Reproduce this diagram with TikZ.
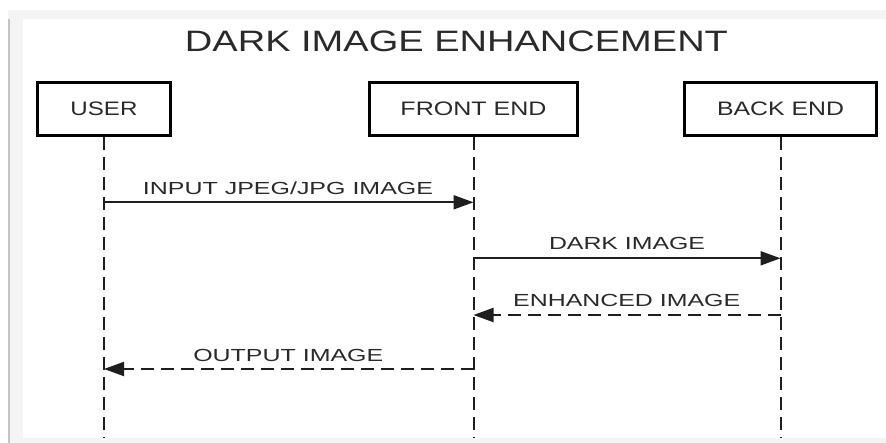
\documentclass[tikz,border=0pt]{standalone}
\usepackage{fontspec}
\setmainfont{Liberation Sans}
\usepackage{graphicx}
\usetikzlibrary{arrows.meta}
\definecolor{txt}{HTML}{2A2A2A}
\definecolor{ln}{HTML}{1E1E1E}
\definecolor{framebg}{HTML}{F4F4F4}
\definecolor{frameline}{HTML}{C4C4C4}
\newcommand{\fitw}[2]{\resizebox{#1}{\height}{#2}}
\begin{document}
\begin{tikzpicture}[x=1pt,y=-1pt,
  actor/.style={draw=black, line width=3pt, fill=white, minimum width=#1, minimum height=53pt,
    inner sep=0pt, text=txt, font=\fontsize{19.5}{21}\selectfont},
  life/.style={draw=ln, line width=2pt, dash pattern=on 13pt off 7pt},
  msg/.style={draw=ln, line width=2pt, -{Triangle[length=20pt,width=14pt]}},
  reply/.style={msg, dash pattern=on 13pt off 7pt},
  lbl/.style={anchor=base, inner sep=0pt, text=txt, font=\fontsize{17.5}{19}\selectfont}]
\useasboundingbox (0,0) rectangle (886,443);
% frame
\fill[white] (0,0) rectangle (886,443);
\fill[framebg] (8,10) rectangle (886,443);
\fill[white] (23,19) rectangle (886,438);
\fill[frameline] (8,19) rectangle (10,443);
% title
\node[anchor=base, inner sep=0pt, text=txt, font=\fontsize{29.5}{32}\selectfont] (title) at (456.5,51.7)
  {\fitw{543pt}{DARK IMAGE ENHANCEMENT}};
% actors
\node[actor=133pt] (user) at (104,109) {\fitw{67pt}{USER}};
\node[actor=208pt] (front) at (473.5,109) {\fitw{146pt}{FRONT END}};
\node[actor=192pt] (back) at (780.5,109) {\fitw{127pt}{BACK END}};
% lifeline ends
\coordinate (uend) at (104,438);
\coordinate (fend) at (473.5,438);
\coordinate (bend) at (780.5,438);
\draw[life] (user.south) -- (uend);
\draw[life] (front.south) -- (fend);
\draw[life] (back.south) -- (bend);
% message points
\coordinate (u1) at (104,202.3);
\coordinate (f1) at (473.5,202.3);
\coordinate (f2) at (473.5,258.3);
\coordinate (b2) at (780.5,258.3);
\coordinate (b3) at (780.5,315);
\coordinate (f3) at (473.5,315);
\coordinate (f4) at (473.5,369);
\coordinate (u4) at (104,369);
\draw[msg] (u1) -- (f1);
\draw[msg] (f2) -- (b2);
\draw[reply] (b3) -- (f3);
\draw[reply] (f4) -- (u4);
% labels
\node[lbl] (l1) at (288,195) {\fitw{290pt}{INPUT JPEG/JPG IMAGE}};
\node[lbl] (l2) at (627,250) {\fitw{156pt}{DARK IMAGE}};
\node[lbl] (l3) at (626.7,306.7) {\fitw{227pt}{ENHANCED IMAGE}};
\node[lbl] (l4) at (288.3,361.7) {\fitw{190pt}{OUTPUT IMAGE}};
\end{tikzpicture}
\end{document}
